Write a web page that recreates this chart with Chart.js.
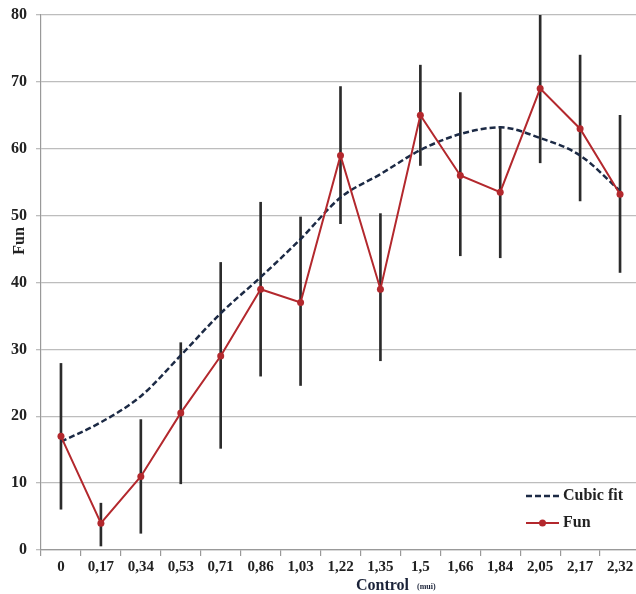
<!DOCTYPE html>
<html>
<head>
<meta charset="utf-8">
<script src="https://cdn.jsdelivr.net/npm/chart.js@4.4.1/dist/chart.umd.min.js"></script>
<style>
html,body{margin:0;padding:0;background:#fff;overflow:hidden;}
#wrap{position:relative;width:644px;height:594px;}
</style>
</head>
<body>
<div id="wrap"><canvas id="c" width="644" height="594"></canvas></div>
<script>
const categories = ['0','0,17','0,34','0,53','0,71','0,86','1,03','1,22','1,35','1,5','1,66','1,84','2,05','2,17','2,32'];
const funValues  = [17, 4, 11, 20.5, 29, 39, 37, 59, 39, 65, 56, 53.5, 69, 63, 53.2];
const cubicFit   = [16.2, 19.1, 23, 29.1, 35.4, 40.8, 46.5, 52.7, 56.2, 59.8, 62.2, 63.2, 61.6, 59, 53.7];
const errLow     = [6.1, 0.6, 2.5, 9.9, 15.2, 26, 24.6, 48.8, 28.3, 57.5, 44, 43.7, 57.9, 52.2, 41.5];
const errHigh    = [27.9, 7, 19.5, 31, 43, 52, 49.8, 69.3, 50.3, 72.5, 68.4, 63.3, 80.1, 74, 65];
const yTicks     = [0, 10, 20, 30, 40, 50, 60, 70, 80];

const RED = '#b3282d';
const NAVY = '#1c2a45';
const SERIF = '"Liberation Serif", "DejaVu Serif", serif';

const textPlugin = {
  id: 'textPlugin',
  afterDraw(chart) {
    const ctx = chart.ctx;
    ctx.save();
    ctx.fillStyle = '#222';
    ctx.font = 'bold 16px ' + SERIF;
    ctx.textAlign = 'center';
    ctx.textBaseline = 'middle';
    ctx.translate(20, 241);
    ctx.rotate(-Math.PI / 2);
    ctx.fillText('Fun', 0, 0);
    ctx.restore();

    ctx.save();
    ctx.fillStyle = '#1a2238';
    ctx.font = 'bold 16px ' + SERIF;
    ctx.textBaseline = 'alphabetic';
    ctx.textAlign = 'left';
    ctx.fillText('Control', 356, 590);
    ctx.font = 'bold 8px ' + SERIF;
    ctx.fillText('(mui)', 417, 589);
    ctx.restore();

    ctx.save();
    const lx1 = 526, lx2 = 559;
    const y1 = 496, y2 = 523;
    ctx.fillStyle = '#fff';
    ctx.fillRect(520, 486, 116, 50);
    ctx.strokeStyle = NAVY;
    ctx.lineWidth = 2.5;
    ctx.setLineDash([6, 3]);
    ctx.beginPath(); ctx.moveTo(lx1, y1); ctx.lineTo(lx2, y1); ctx.stroke();
    ctx.setLineDash([]);
    ctx.strokeStyle = RED;
    ctx.lineWidth = 2;
    ctx.beginPath(); ctx.moveTo(lx1, y2); ctx.lineTo(lx2, y2); ctx.stroke();
    ctx.fillStyle = RED;
    ctx.beginPath(); ctx.arc((lx1 + lx2) / 2, y2, 3.5, 0, Math.PI * 2); ctx.fill();
    ctx.fillStyle = '#222';
    ctx.font = 'bold 16px ' + SERIF;
    ctx.textBaseline = 'middle';
    ctx.fillText('Cubic fit', 563, y1);
    ctx.fillText('Fun', 563, y2);
    ctx.restore();
  }
};

new Chart(document.getElementById('c'), {
  type: 'line',
  data: {
    labels: categories,
    datasets: [
      {
        type: 'line',
        label: 'Fun',
        data: funValues,
        borderColor: RED,
        backgroundColor: RED,
        borderWidth: 2,
        pointRadius: 3.5,
        pointBackgroundColor: RED,
        pointBorderWidth: 0,
        tension: 0,
        order: 1
      },
      {
        type: 'line',
        label: 'Cubic fit',
        data: cubicFit,
        borderColor: NAVY,
        borderWidth: 2.5,
        borderDash: [6, 3],
        pointRadius: 0,
        cubicInterpolationMode: 'monotone',
        order: 2
      },
      {
        type: 'bar',
        label: 'err',
        data: errLow.map((l, i) => [l, errHigh[i]]),
        backgroundColor: '#2b2b2b',
        barThickness: 2,
        order: 3
      }
    ]
  },
  options: {
    responsive: false,
    animation: false,
    devicePixelRatio: 1,
    layout: { padding: { top: -4, left: 2, right: 1, bottom: 16 } },
    plugins: { legend: { display: false }, tooltip: { enabled: false } },
    scales: {
      x: {
        type: 'category',
        offset: true,
        grid: { display: true, drawOnChartArea: false, drawTicks: true, tickLength: 6, offset: true, color: '#999', lineWidth: 1.2 },
        border: { display: true, color: '#999', width: 1.2 },
        ticks: { color: '#222', font: { family: SERIF, size: 15, weight: 'bold' }, padding: 2, maxRotation: 0, autoSkip: false }
      },
      y: {
        min: 0, max: 80,
        afterBuildTicks(scale) { scale.ticks = yTicks.map(v => ({ value: v })); },
        grid: { color: '#bdbdbd', lineWidth: 1.3, tickLength: 5 },
        border: { display: true, color: '#999', width: 1.2 },
        ticks: { color: '#222', font: { family: SERIF, size: 16, weight: 'bold', lineHeight: 0.75 }, padding: 9 }
      }
    }
  },
  plugins: [textPlugin]
});
</script>
</body>
</html>
